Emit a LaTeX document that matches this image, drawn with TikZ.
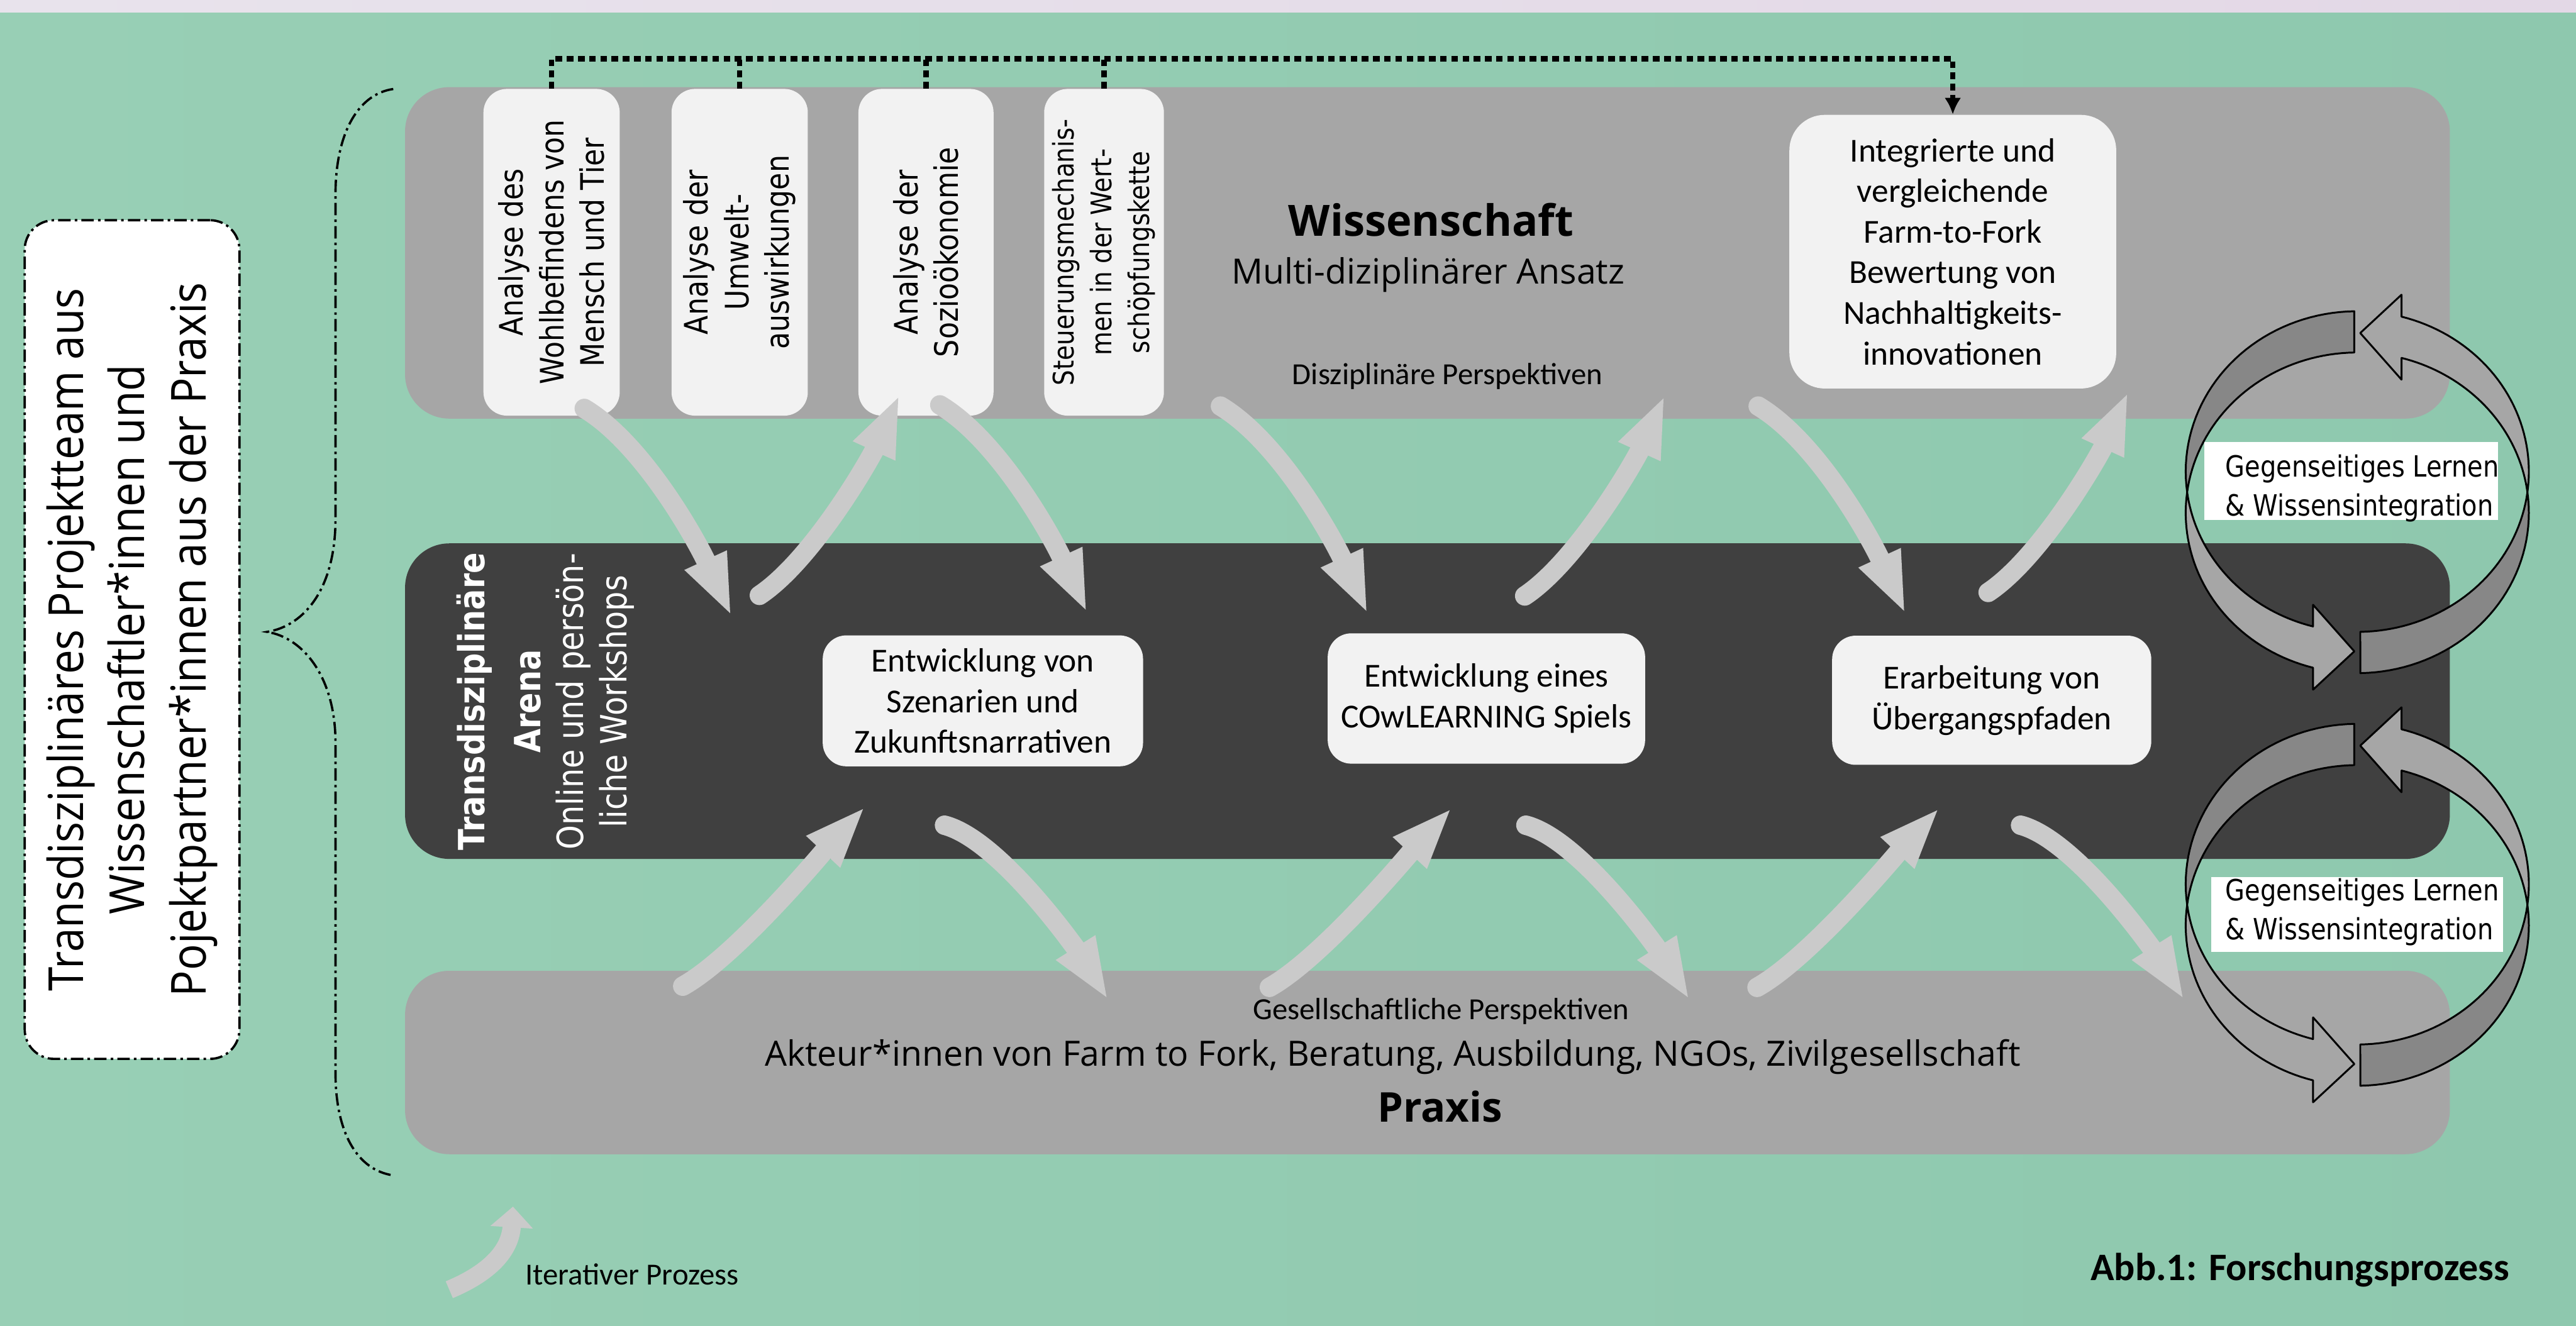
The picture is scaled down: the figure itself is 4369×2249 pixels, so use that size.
\documentclass[tikz,border=0pt]{standalone}
\usepackage{fontspec}
\setmainfont{Carlito}
\newfontfamily\osans{Open Sans}
\newfontfamily\tahoma[FakeStretch=0.86]{DejaVu Sans}
\newfontfamily\condf[FakeStretch=0.9]{Open Sans}
\usetikzlibrary{arrows.meta}
\definecolor{bgL}{RGB}{152,207,181}
\definecolor{bgR}{RGB}{142,200,174}
\definecolor{lavL}{RGB}{232,227,236}
\definecolor{lavR}{RGB}{227,216,230}
\definecolor{boxgray}{RGB}{166,166,166}
\definecolor{arenagray}{RGB}{64,64,64}
\definecolor{cardwhite}{RGB}{242,242,242}
\definecolor{arrowgray}{RGB}{202,202,202}
\definecolor{loopdark}{RGB}{135,135,135}
\definecolor{looplight}{RGB}{166,166,166}
\newcommand{\lpA}[3]{plot[domain=0:1,samples=40,variable=\pp]({3998+291*cos(#2+(#3-(#2))*\pp)},{#1-35+272*sin(#2+(#3-(#2))*\pp)})}
\newcommand{\lpAc}[3]{-- plot[domain=0:1,samples=40,variable=\pp]({3998+291*cos(#2+(#3-(#2))*\pp)},{#1-35+272*sin(#2+(#3-(#2))*\pp)})}
\newcommand{\lpB}[3]{plot[domain=0:1,samples=40,variable=\pp]({3998+291*cos(#2+(#3-(#2))*\pp)},{#1+35+272*sin(#2+(#3-(#2))*\pp)})}
\newcommand{\lpBc}[3]{-- plot[domain=0:1,samples=40,variable=\pp]({3998+291*cos(#2+(#3-(#2))*\pp)},{#1+35+272*sin(#2+(#3-(#2))*\pp)})}
\begin{document}
\begin{tikzpicture}[x=0.01cm,y=-0.01cm,
  bigband/.style={inner sep=0pt, rounded corners=0.75cm, minimum width=34.66cm},
  card/.style={fill=cardwhite, rounded corners=0.4cm, inner sep=0pt, align=center, font=\fontsize{16.2}{19.6}\selectfont},
  vcard/.style={fill=cardwhite, rounded corners=0.4cm, inner sep=0pt, minimum height=5.54cm},
  vtext/.style={rotate=90, align=center, inner sep=0pt, font=\tahoma\fontsize{15.6}{19.6}\selectfont},
  garrow/.style={draw=arrowgray, line width=9.4pt, line cap=round, -{Triangle[length=30pt,width=20pt]}},
  dotline/.style={line width=2.6pt, dash pattern=on 3.2pt off 2.2pt},
  dashdotline/.style={line width=1.1pt, dash pattern=on 6pt off 2pt on 1.2pt off 2pt},
  loopline/.style={draw=black, line width=0.9pt, line join=round},
  lbltext/.style={anchor=west, align=left, inner sep=0pt, font=\tahoma\fontsize{14.1}{18.8}\selectfont}
]
\useasboundingbox (0,0) rectangle (4369,2249);
\shade[left color=bgL, right color=bgR] (0,21) rectangle (4369,2249);
\shade[left color=lavL, right color=lavR] (0,0) rectangle (4369,21);

% main bands
\node[bigband, fill=boxgray, minimum height=5.62cm] (wiss) at (2421,429) {};
\node[bigband, fill=arenagray, minimum height=5.35cm] (arena) at (2421,1189.5) {};
\node[bigband, fill=boxgray, minimum height=3.11cm] (praxis) at (2421,1802.5) {};

% left team box and brace
\node[draw, dashdotline, fill=white, rounded corners=0.5cm, minimum width=3.64cm, minimum height=14.22cm, inner sep=0pt] (team) at (224,1085) {};
\node[rotate=90, align=center, inner sep=0pt, font=\condf\fontsize{23.3}{29.6}\selectfont] (teamt) at (team) {Transdisziplinäres Projektteam aus\\Wissenschaftler*innen und\\Pojektpartner*innen aus der Praxis};
\draw[dashdotline] (667,151) .. controls (605,160) and (569,230) .. (569,330) -- (569,880) .. controls (569,1000) and (515,1062) .. (453,1072) .. controls (515,1082) and (569,1150) .. (569,1260) -- (569,1820) .. controls (569,1920) and (605,1985) .. (667,1994);

% Wissenschaft cards
\node[vcard, minimum width=2.31cm] (a1) at (935.5,428) {};
\node[vcard, minimum width=2.31cm] (a2) at (1254.5,428) {};
\node[vcard, minimum width=2.29cm] (a3) at (1570.5,428) {};
\node[vcard, minimum width=2.03cm] (a4) at (1872.5,428) {};
\node[vtext] (a1t) at (a1) {Analyse des\\Wohlbefindens von\\Mensch und Tier};
\node[vtext] (a2t) at (a2) {Analyse der\\Umwelt-\\auswirkungen};
\node[vtext] (a3t) at (a3) {Analyse der\\Sozioökonomie};
\node[vtext, font=\tahoma\fontsize{13.7}{18.2}\selectfont] (a4t) at (a4) {Steuerungsmechanis-\\men in der Wert-\\schöpfungskette};
\node[card, rounded corners=0.6cm, minimum width=5.54cm, minimum height=4.64cm] (integ) at (3312,427) {Integrierte und\\vergleichende\\Farm-to-Fork\\Bewertung von\\Nachhaltigkeits-\\innovationen};

\node[anchor=base, font=\osans\bfseries\fontsize{20.8}{25}\selectfont] (wisst) at (2427,400) {Wissenschaft};
\node[anchor=base, font=\osans\fontsize{16.8}{20}\selectfont] (multi) at (2422,482) {Multi-diziplinärer Ansatz};
\node[anchor=base, font=\fontsize{14.8}{18}\selectfont] (dis) at (2455,652) {Disziplinäre Perspektiven};

% Arena
\node[rotate=90, text=white, align=center, inner sep=0pt, font=\tahoma\fontsize{17.4}{20.8}\selectfont] (arenat) at (925,1190) {\textbf{Transdisziplinäre}\\[6pt]\textbf{Arena}\\Online und persön-\\liche Workshops};
\node[card, minimum width=5.43cm, minimum height=2.22cm] (e1) at (1667,1189) {Entwicklung von\\Szenarien und\\Zukunftsnarrativen};
\node[card, minimum width=5.38cm, minimum height=2.21cm] (e2) at (2521,1185) {Entwicklung eines\\COwLEARNING Spiels};
\node[card, minimum width=5.41cm, minimum height=2.19cm] (e3) at (3378,1188) {Erarbeitung von\\Übergangspfaden};

% Praxis
\node[anchor=base, font=\fontsize{14.8}{18}\selectfont] (ges) at (2444,1730) {Gesellschaftliche Perspektiven};
\node[anchor=base, font=\osans\fontsize{16.8}{20}\selectfont] (akt) at (2362,1808) {Akteur*innen von Farm to Fork, Beratung, Ausbildung, NGOs, Zivilgesellschaft};
\node[anchor=base, font=\osans\bfseries\fontsize{19.8}{24}\selectfont] (prax) at (2442,1903) {Praxis};

% gray process arrows
\foreach \i/\x/\y in {1/991/693,2/1594/687,3/2070/689,4/2982/689} {
  \coordinate (dn\i s) at (\x,\y);
  \coordinate (dn\i e) at ({\x+250},{\y+353});
  \draw[garrow] (dn\i s) .. controls +(100,60) and +(-60,-130) .. (dn\i e);
}
\foreach \i/\x/\y in {1/1288/1010,2/2586/1011,3/3372/1005} {
  \coordinate (up\i s) at (\x,\y);
  \coordinate (up\i e) at ({\x+238},{\y-341});
  \draw[garrow] (up\i s) .. controls +(90,-60) and +(-50,110) .. (up\i e);
}
\foreach \i/\x/\y in {1/1158/1673,2/2153/1675,3/2980/1675} {
  \coordinate (bu\i s) at (\x,\y);
  \coordinate (bu\i e) at ({\x+310},{\y-305});
  \draw[garrow] (bu\i s) .. controls +(90,-50) and +(-70,75) .. (bu\i e);
}
\foreach \i/\x/\y in {1/1602/1400,2/2588/1400,3/3427/1400} {
  \coordinate (bd\i s) at (\x,\y);
  \coordinate (bd\i e) at ({\x+278},{\y+297});
  \draw[garrow] (bd\i s) .. controls +(95,25) and +(-50,-80) .. (bd\i e);
}

% dotted connector
\coordinate (bus) at (0,100);
\draw[dotline, -{Latex[length=8pt,width=8pt]}] (a1.north) |- (integ.north |- bus) -- (integ.north);
\draw[dotline] (a2.north) -- (a2.north |- bus);
\draw[dotline] (a3.north) -- (a3.north |- bus);
\draw[dotline] (a4.north) -- (a4.north |- bus);

% mutual learning loops
\foreach \cy in {835,1535} {
  \filldraw[loopline, fill=loopdark] \lpA{\cy}{269}{172.61} \lpBc{\cy}{187.39}{269} -- cycle;
  \filldraw[loopline, fill=loopdark] \lpA{\cy}{89}{7.39} \lpBc{\cy}{-7.39}{89} -- cycle;
  \filldraw[loopline, fill=looplight] \lpA{\cy}{172.61}{104.94} -- (3923,{\cy+191}) -- (3993,{\cy+270}) -- (3923,{\cy+335}) \lpBc{\cy}{104.94}{187.39} -- cycle;
  \filldraw[loopline, fill=looplight] \lpB{\cy}{-7.39}{-75.06} -- (4073,{\cy-191}) -- (4003,{\cy-270}) -- (4073,{\cy-335}) \lpAc{\cy}{-75.06}{7.39} -- cycle;
}
\node[fill=white, minimum width=4.98cm, minimum height=1.33cm, inner sep=0pt] (g1box) at (3988,816) {};
\node[lbltext] (g1) at (3774,828) {Gegenseitiges Lernen\\\& Wissensintegration};
\node[fill=white, minimum width=4.95cm, minimum height=1.27cm, inner sep=0pt] (g2box) at (3998,1551) {};
\node[lbltext] (g2) at (3774,1547) {Gegenseitiges Lernen\\\& Wissensintegration};

% legend
\coordinate (its) at (762,2188);
\coordinate (ite) at (870,2047);
\draw[draw=arrowgray, line width=8.8pt, -{Triangle[length=10pt,width=20pt]}] (its) .. controls +(60,-25) and +(-5,80) .. (ite);
\node[anchor=base west, inner sep=0pt, font=\fontsize{14.8}{18}\selectfont] (iter) at (890,2180) {Iterativer Prozess};
\node[anchor=base west, inner sep=0pt, font=\bfseries\fontsize{18.8}{22}\selectfont] (abb) at (3545,2172) {Abb.1: Forschungsprozess};
\end{tikzpicture}
\end{document}
